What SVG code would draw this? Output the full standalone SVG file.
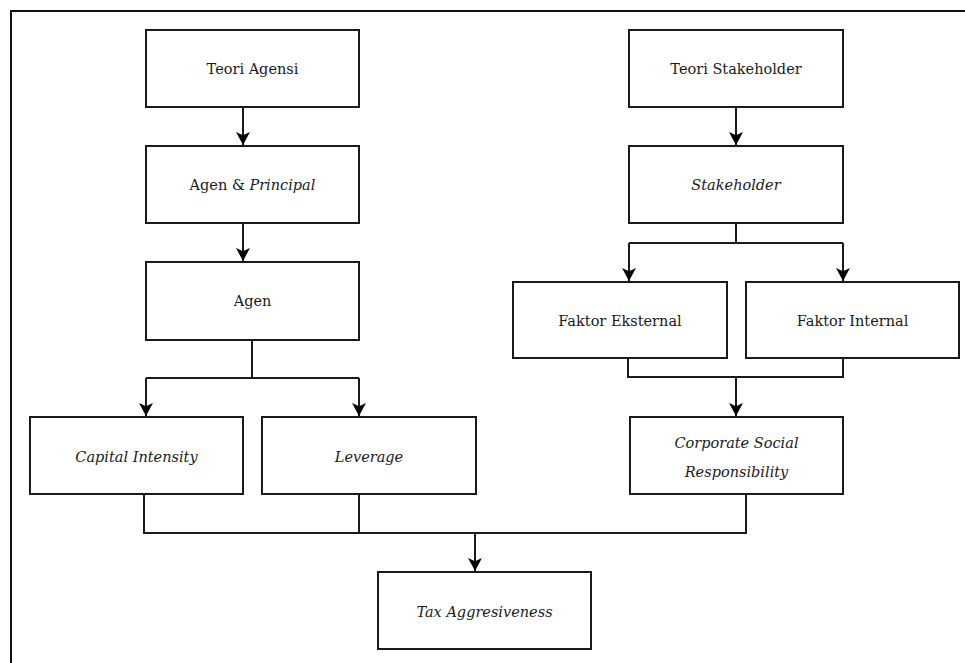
<svg xmlns="http://www.w3.org/2000/svg" width="965" height="663" viewBox="0 0 965 663">
<style>
.box{fill:#fff;stroke:#1a1a1a;stroke-width:2}
.t{font-family:"DejaVu Serif","Liberation Serif",serif;font-size:14.5px;fill:#1a1a1a;text-anchor:middle}
.i{font-style:italic}
.c{fill:none;stroke:#1a1a1a;stroke-width:2}
.a{fill:none;stroke:#1a1a1a;stroke-width:2;marker-end:url(#ah)}
</style>
<defs>
<marker id="ah" viewBox="0 0 10 10" refX="10" refY="5" markerWidth="13" markerHeight="14" markerUnits="userSpaceOnUse" orient="auto" preserveAspectRatio="none">
<path d="M0,0 L10,5 L0,10 L2.5,5 z" fill="#000"/>
</marker>
</defs>
<rect x="0" y="0" width="965" height="663" fill="#fff"/>
<rect id="frame" x="11" y="11" width="980" height="680" fill="none" stroke="#111" stroke-width="2"/>
<g id="connectors">
<path class="a" d="M243,107 V145"/>
<path class="a" d="M243,223 V261"/>
<path class="c" d="M252,340 V378 M146,378 H359"/>
<path class="a" d="M146,378 V416"/>
<path class="a" d="M359,378 V416"/>
<path class="a" d="M736,107 V145"/>
<path class="c" d="M736,223 V243 M629,243 H843"/>
<path class="a" d="M629,243 V281"/>
<path class="a" d="M843,243 V281"/>
<path class="c" d="M628,358 V377 H843 V358"/>
<path class="a" d="M736,377 V416"/>
<path class="c" d="M144,494 V533 H746 V494 M359,494 V533"/>
<path class="a" d="M475,533 V571"/>
</g>
<g id="teori-agensi"><rect class="box" x="146" y="30" width="213" height="77"/><text class="t" x="252.5" y="74">Teori Agensi</text></g>
<g id="agen-principal"><rect class="box" x="146" y="146" width="213" height="77"/><text class="t" x="252.5" y="190">Agen &amp; <tspan class="i">Principal</tspan></text></g>
<g id="agen"><rect class="box" x="146" y="262" width="213" height="78"/><text class="t" x="252.5" y="306">Agen</text></g>
<g id="capital-intensity"><rect class="box" x="30" y="417" width="213" height="77"/><text class="t i" x="136.5" y="462">Capital Intensity</text></g>
<g id="leverage"><rect class="box" x="262" y="417" width="214" height="77"/><text class="t i" x="369" y="462">Leverage</text></g>
<g id="teori-stakeholder"><rect class="box" x="629" y="30" width="214" height="77"/><text class="t" x="736" y="74">Teori Stakeholder</text></g>
<g id="stakeholder"><rect class="box" x="629" y="146" width="214" height="77"/><text class="t i" x="736" y="190">Stakeholder</text></g>
<g id="faktor-eksternal"><rect class="box" x="513" y="282" width="214" height="76"/><text class="t" x="620" y="326">Faktor Eksternal</text></g>
<g id="faktor-internal"><rect class="box" x="746" y="282" width="213" height="76"/><text class="t" x="852.5" y="326">Faktor Internal</text></g>
<g id="csr"><rect class="box" x="630" y="417" width="213" height="77"/><text class="t i" x="736.5" y="448">Corporate Social</text><text class="t i" x="736.5" y="477">Responsibility</text></g>
<g id="tax-aggressiveness"><rect class="box" x="378" y="572" width="213" height="77"/><text class="t i" x="484.5" y="617">Tax Aggresiveness</text></g>
</svg>
